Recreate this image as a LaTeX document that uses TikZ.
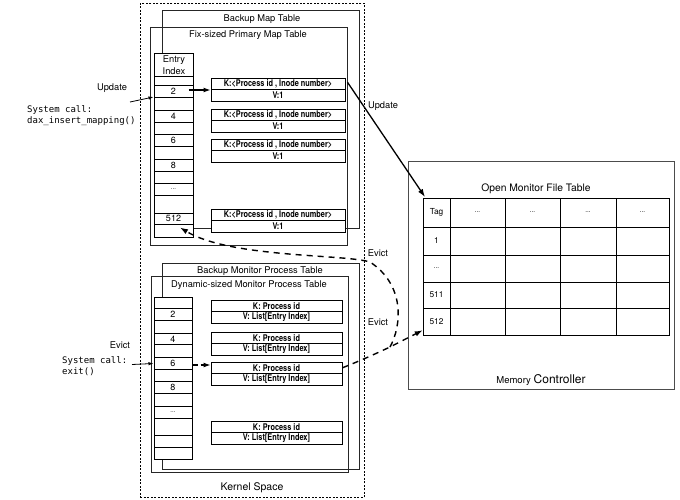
\documentclass[tikz,border=0pt]{standalone}
\usepackage{fontspec}
\setmainfont{TeX Gyre Heros}
\newfontfamily\kvf[FakeStretch=0.8]{TeX Gyre Heros}
\newfontfamily\monof{DejaVu Sans Mono}
\usetikzlibrary{arrows.meta,calc}
\begin{document}
\begin{tikzpicture}[x=1pt,y=-1pt,
  lab/.style={font=\fontsize{9.3}{11}\selectfont, inner sep=0},
  mono/.style={font=\monof\fontsize{9}{11}\selectfont, inner sep=0, align=left, anchor=west},
  frame/.style={draw=black!85, line width=0.8pt, inner sep=0, anchor=north west},
  colbox/.style={draw=black, line width=0.9pt, fill=white, inner sep=0, anchor=north west},
  cell/.style={draw=black, line width=1pt, fill=white, minimum width=39pt, minimum height=12pt, inner sep=0, font=\fontsize{9}{10}\selectfont},
  kvt/.style={draw=black, line width=1pt, fill=white, minimum width=134pt, minimum height=11.5pt, inner sep=0, font=\kvf\bfseries\fontsize{9.2}{10}\selectfont},
  kvb/.style={kvt, minimum width=131pt},
  tcell/.style={inner sep=0, font=\fontsize{8.3}{10}\selectfont},
  arr/.style={line width=1.2pt, -{Latex[length=7pt,width=5pt]}},
  thinarr/.style={line width=0.8pt, -{Latex[length=5pt,width=3.5pt]}},
  evict/.style={line width=1.4pt, dash pattern=on 6pt off 5pt},
  tline/.style={draw=black, line width=1pt}]
\useasboundingbox (0,0) rectangle (680,499);

% kernel space
\node[draw=black, dash pattern=on 2pt off 1.5pt, line width=0.8pt, inner sep=0, anchor=north west,
      minimum width=224pt, minimum height=494pt] (kernel) at (140,3) {};
\node[lab, font=\fontsize{10.5}{12}\selectfont] (kslab) at (252,488) {Kernel Space};

% ---------- top: map tables ----------
\node[frame, minimum width=197pt, minimum height=218pt] (bmt) at (162,10) {};
\node[frame, minimum width=197pt, minimum height=218pt] (pmt) at (150,27) {};
\node[lab] (bmtlab) at (262,19) {Backup Map Table};
\node[lab] (pmtlab) at (248,35.5) {Fix-sized Primary Map Table};

\node[colbox, minimum width=39pt, minimum height=184pt] (col1) at (154,53) {};
\node[cell, line width=0.9pt, minimum height=23pt, anchor=north west, align=center,
      font=\fontsize{9.3}{12}\selectfont] (hdr) at (154,53) {Entry\\Index};
\node[cell] (t2) at (173.5,91.5) {2};
\node[cell] (t4) at (173.5,116) {4};
\node[cell] (t6) at (173.5,140) {6};
\node[cell] (t8) at (173.5,165) {8};
\node[cell, font=\fontsize{6}{8}\selectfont] (tdots) at (173.5,189) {...};
\node[cell, minimum height=11pt] (t512) at (173.5,218.5) {512};

\node[kvt] (k1k) at (278,83.75) {K:<Process id , Inode number>};
\node[kvt] (k1v) at (278,95.25) {V:1};
\node[kvt] (k2k) at (278,114.75) {K:<Process id , Inode number>};
\node[kvt] (k2v) at (278,126.25) {V:1};
\node[kvt] (k3k) at (278,144.75) {K:<Process id , Inode number>};
\node[kvt] (k3v) at (278,156.25) {V:1};
\node[kvt] (k4k) at (278,214.75) {K:<Process id , Inode number>};
\node[kvt] (k4v) at (278,226.25) {V:1};

% ---------- bottom: monitor process tables ----------
\node[frame, minimum width=197pt, minimum height=206pt] (bmp) at (162,263) {};
\node[frame, minimum width=197pt, minimum height=196pt] (dmp) at (151,276) {};
\node[lab] (bmplab) at (260,271) {Backup Monitor Process Table};
\node[lab] (dmplab) at (249,285.5) {Dynamic-sized Monitor Process Table};

\node[colbox, minimum width=38pt, minimum height=162pt] (col2) at (154,297) {};
\node[cell, minimum width=38pt, minimum height=11.5pt] (b2) at (173,314.5) {2};
\node[cell, minimum width=38pt, minimum height=11.5pt] (b4) at (173,339) {4};
\node[cell, minimum width=38pt, minimum height=11.5pt] (b6) at (173,363.5) {6};
\node[cell, minimum width=38pt, minimum height=11.5pt] (b8) at (173,387.5) {8};
\node[cell, minimum width=38pt, minimum height=11.5pt, font=\fontsize{6}{8}\selectfont] (bdots) at (173,412.5) {...};
\node[cell, minimum width=38pt, minimum height=11.5pt] (bblank) at (173,441.5) {};

\node[kvb] (p1k) at (276.5,305.75) {K: Process id};
\node[kvb] (p1v) at (276.5,317.25) {V: List[Entry Index]};
\node[kvb] (p2k) at (276.5,337.75) {K: Process id};
\node[kvb] (p2v) at (276.5,349.25) {V: List[Entry Index]};
\node[kvb] (p3k) at (276.5,367.75) {K: Process id};
\node[kvb] (p3v) at (276.5,379.25) {V: List[Entry Index]};
\node[kvb] (p4k) at (276.5,426.75) {K: Process id};
\node[kvb] (p4v) at (276.5,438.25) {V: List[Entry Index]};

% ---------- right: memory controller ----------
\node[draw=black!70, line width=0.8pt, inner sep=0, anchor=north west,
      minimum width=266pt, minimum height=228pt] (mc) at (408,161) {};
\node[inner sep=0] (mclab) at (541,380) {{\fontsize{9.5}{10}\selectfont Memory} {\fontsize{12}{14}\selectfont Controller}};
\node[lab, font=\fontsize{10.3}{12}\selectfont] (tbllab) at (536,189) {Open Monitor File Table};
\node[draw=black, line width=1pt, inner sep=0, anchor=north west,
      minimum width=246pt, minimum height=137pt] (tbl) at (423,198) {};
\foreach \x in {450,505,560,616} \draw[tline] (\x,198) -- (\x,335);
\foreach \y in {227,255,282,308} \draw[tline] (423,\y) -- (669,\y);
\node[tcell] (ctag) at (436.5,212.5) {Tag};
\node[tcell, font=\fontsize{6.5}{8}\selectfont] (h1) at (477.5,212.5) {...};
\node[tcell, font=\fontsize{6.5}{8}\selectfont] (h2) at (532.5,212.5) {...};
\node[tcell, font=\fontsize{6.5}{8}\selectfont] (h3) at (588,212.5) {...};
\node[tcell, font=\fontsize{6.5}{8}\selectfont] (h4) at (642.5,212.5) {...};
\node[tcell] (c1) at (436.5,241) {1};
\node[tcell, font=\fontsize{6.5}{8}\selectfont] (cdots) at (436.5,268.5) {...};
\node[tcell] (c511) at (436.5,295) {511};
\node[tcell, minimum width=27pt, minimum height=27pt] (c512) at (436.5,321.5) {512};

% ---------- left labels ----------
\node[lab] (upd) at (112,88) {Update};
\node[mono] (sys1) at (27,115.5) {System call:\\dax\_insert\_mapping()};
\coordinate (u0) at (130,102);
\draw[thinarr] (u0) -- ($(t2.south west)+(0,-1)$);

\node[lab] (ev0) at (120,345) {Evict};
\node[mono] (sys2) at (62,366) {System call:\\exit()};
\coordinate (e0) at (132,364.5);
\draw[thinarr] (e0) -- (b6.west);

% ---------- connectors ----------
\draw[arr] ($(t2.east)+(-5,-1.5)$) -- (k1k.south west);
\draw[line width=1.2pt, dash pattern=on 5pt off 3pt, -{Latex[length=7pt,width=5pt]}]
  ($(b6.east)+(0,1.5)$) -- ($(b6.east -| p3k.west)+(0,1.5)$);

\draw[line width=1.3pt, -{Latex[length=8pt,width=5.5pt]}] ($(k1k.east)+(2,-1.5)$) -- ($(tbl.north west)+(2,-1)$);
\node[lab] (updlab) at (383,106) {Update};

\coordinate (J) at (390,347);
\draw[evict, -{Latex[length=8pt,width=5.5pt]}] (p3k.east) .. controls (362,360) and (375,354) .. (J) -- ($(c512.south west)+(0,-5)$);
\draw[evict, -{Latex[length=8pt,width=5.5pt]}] (J) .. controls (402,325) and (405,285) .. (370,262)
  .. controls (345,254) and (230,258) .. ($(t512.south)+(6.5,3)$);
\node[lab] (ev1) at (378,253) {Evict};
\node[lab] (ev2) at (378,322) {Evict};
\end{tikzpicture}
\end{document}
